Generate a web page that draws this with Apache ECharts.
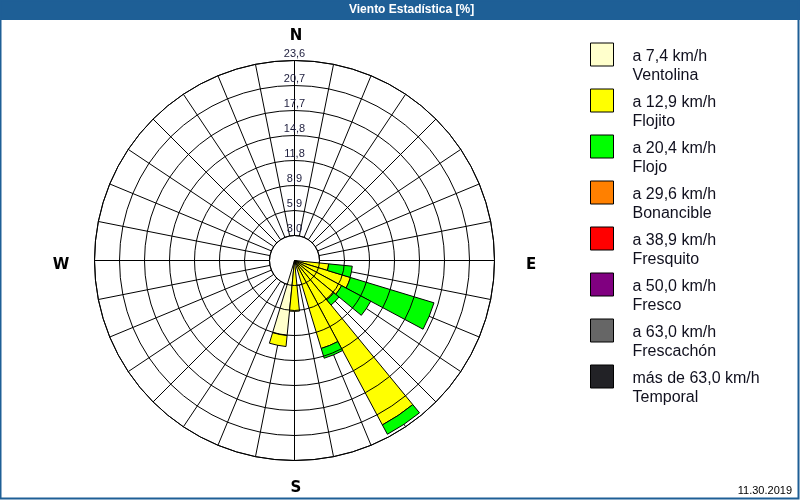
<!DOCTYPE html>
<html>
<head>
<meta charset="utf-8">
<script src="https://cdn.jsdelivr.net/npm/echarts@6/dist/echarts.min.js"></script>
<style>
html,body{margin:0;padding:0;background:#fff;}
#chart{width:800px;height:500px;}
</style>
</head>
<body>
<div id="chart"></div>
<script>
// 32 compass directions, clockwise from North
const directions = ['N','NbE','NNE','NEbN','NE','NEbE','ENE','EbN','E','EbS','ESE','SEbE','SE','SEbS','SSE','SbE','S','SbW','SSW','SWbS','SW','SWbW','WSW','WbS','W','WbN','WNW','NWbW','NW','NWbN','NNW','NbW'];
const compassLabels = ['N','E','S','W'];
const radiusTickLabels = ['3,0','5,9','8,9','11,8','14,8','17,7','20,7','23,6'];
const radiusStep = 2.95;
const radiusMax = 23.6;

const classNames  = ['Ventolina','Flojito','Flojo','Bonancible','Fresquito','Fresco','Frescachón','Temporal'];
const classSpeeds = ['a 7,4 km/h','a 12,9 km/h','a 20,4 km/h','a 29,6 km/h','a 38,9 km/h','a 50,0 km/h','a 63,0 km/h','más de 63,0 km/h'];
const classColors = ['#ffffcc','#ffff00','#00ff00','#ff8000','#ff0000','#800080','#666666','#222226'];

// percentages per direction (N, NbE, ... NbW)
const ventolina  = [0,0,0,0,0,0,0,0,0,0,0,0,0,0,0,0,0,8.9,0,0,0,0,0,0,0,0,0,0,0,0,0,0];
const flojito    = [0,0,0,0,0,0,0,0,0,4.05,6.9,6.3,6.0,22.0,10.85,0,6.0,1.3,0,0,0,0,0,0,0,0,0,0,0,0,0,0];
const flojo      = [0,0,0,0,0,0,0,0,0,2.8,10.3,3.9,0.8,1.25,1.2,0,0,0,0,0,0,0,0,0,0,0,0,0,0,0,0,0];
const bonancible = [0,0,0,0,0,0,0,0,0,0,0,0,0,0,0,0,0,0,0,0,0,0,0,0,0,0,0,0,0,0,0,0];
const fresquito  = [0,0,0,0,0,0,0,0,0,0,0,0,0,0,0,0,0,0,0,0,0,0,0,0,0,0,0,0,0,0,0,0];
const fresco     = [0,0,0,0,0,0,0,0,0,0,0,0,0,0,0,0,0,0,0,0,0,0,0,0,0,0,0,0,0,0,0,0];
const frescachon = [0,0,0,0,0,0,0,0,0,0,0,0,0,0,0,0,0,0,0,0,0,0,0,0,0,0,0,0,0,0,0,0];
const temporal   = [0,0,0,0,0,0,0,0,0,0,0,0,0,0,0,0,0,0,0,0,0,0,0,0,0,0,0,0,0,0,0,0];
const classData = [ventolina, flojito, flojo, bonancible, fresquito, fresco, frescachon, temporal];

const cx = 294.5, cy = 260.5, R = 200;
const chart = echarts.init(document.getElementById('chart'));

const series = classNames.map((name, k) => ({
  name: name,
  type: 'bar',
  coordinateSystem: 'polar',
  polarIndex: 1,
  stack: 'wind',
  barCategoryGap: '0%',
  // empty classes are not drawn (no zero-height outlines)
  data: classData[k].map(v => (v === 0 ? '-' : v)),
  itemStyle: { color: classColors[k], borderColor: '#000', borderWidth: 1 },
  emphasis: { disabled: true },
  silent: true,
  z: 3
}));

const option = {
  animation: false,
  backgroundColor: '#ffffff',
  polar: [
    { center: [cx, cy], radius: [25, R] },
    { center: [cx, cy], radius: [0, R] }
  ],
  angleAxis: [
    {
      polarIndex: 0, type: 'category', data: directions, startAngle: 90, clockwise: true,
      boundaryGap: true,
      axisLine: { show: true, lineStyle: { color: '#000', width: 1 } },
      axisTick: { show: false }, axisLabel: { show: false, interval: 0 },
      splitLine: { show: true, interval: 0, lineStyle: { color: '#000', width: 1 } }
    },
    {
      polarIndex: 1, type: 'category', data: directions, startAngle: 90 + 360 / 64, clockwise: true,
      axisLine: { show: false }, axisTick: { show: false }, axisLabel: { show: false },
      splitLine: { show: false }
    }
  ],
  radiusAxis: [
    {
      polarIndex: 0, type: 'value', min: radiusStep, max: radiusMax, interval: radiusStep,
      axisLine: { show: false }, axisTick: { show: false },
      splitLine: { show: true, lineStyle: { color: '#000', width: 1 } },
      axisLabel: {
        show: true, margin: 0, align: 'center', verticalAlign: 'bottom',
        padding: [0, 0, 1, 0],
        color: '#1c1c3c', fontFamily: 'Liberation Sans', fontSize: 11,
        formatter: v => radiusTickLabels[Math.round(v / radiusStep) - 1] || ''
      },
      z: 5
    },
    { polarIndex: 1, type: 'value', min: 0, max: radiusMax, show: false }
  ],
  legend: {
    orient: 'vertical', left: 585, top: 19,
    icon: 'rect', itemWidth: 23, itemHeight: 23, itemGap: -13.5,
    selectedMode: false,
    data: classNames,
    itemStyle: { borderColor: '#000', borderWidth: 1 },
    formatter: name => '{s|.}\n{t|' + classSpeeds[classNames.indexOf(name)] + '}\n{t|' + name + '}',
    textStyle: {
      fontFamily: 'Liberation Sans', fontSize: 16, color: '#10101e', padding: [0, 0, 0, 14],
      rich: {
        s: { lineHeight: 23, height: 23, fontSize: 16, fontFamily: 'Liberation Sans', color: 'rgba(0,0,0,0)' },
        t: { lineHeight: 19, fontSize: 16, fontFamily: 'Liberation Sans', color: '#10101e' }
      }
    }
  },
  graphic: [
    { type: 'rect', left: 0, top: 0, shape: { width: 800, height: 20 }, style: { fill: '#1e5f96' }, silent: true },
    { type: 'text', left: 349, top: 4, style: { text: 'Viento Estadística [%]', fill: '#ffffff', font: 'bold 12px "Liberation Sans"' }, silent: true },
    { type: 'rect', shape: { x: 0.5, y: 0.5, width: 798, height: 498 }, style: { fill: 'none', stroke: '#1e5f96', lineWidth: 2 }, silent: true },
    { type: 'text', x: 296, y: 36, style: { text: compassLabels[0], fill: '#000', font: 'bold 15px "DejaVu Sans"', align: 'center', verticalAlign: 'middle' }, silent: true },
    { type: 'text', x: 531, y: 265, style: { text: compassLabels[1], fill: '#000', font: 'bold 15px "DejaVu Sans"', align: 'center', verticalAlign: 'middle' }, silent: true },
    { type: 'text', x: 296, y: 488, style: { text: compassLabels[2], fill: '#000', font: 'bold 15px "DejaVu Sans"', align: 'center', verticalAlign: 'middle' }, silent: true },
    { type: 'text', x: 61, y: 265, style: { text: compassLabels[3], fill: '#000', font: 'bold 15px "DejaVu Sans"', align: 'center', verticalAlign: 'middle' }, silent: true },
    { type: 'text', x: 792, y: 491, style: { text: '11.30.2019', fill: '#000', font: '11px "Liberation Sans"', align: 'right', verticalAlign: 'middle' }, silent: true }
  ],
  series: series
};
chart.setOption(option);
</script>
</body>
</html>
